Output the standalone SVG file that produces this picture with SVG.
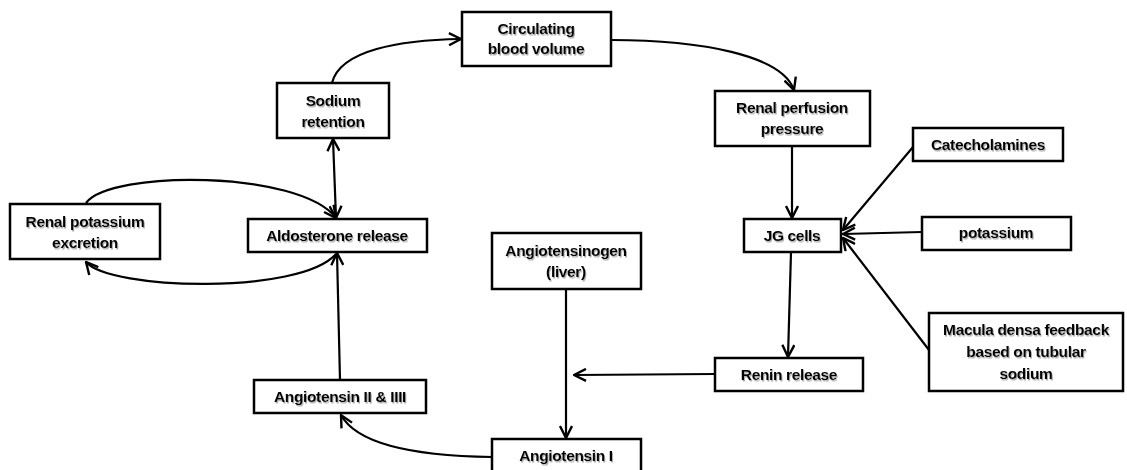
<svg xmlns="http://www.w3.org/2000/svg" width="1127" height="470" viewBox="0 0 1127 470">
<style>
.box{fill:#fff;stroke:#000;stroke-width:2.5}
.t{font-family:"Liberation Sans",Arial,sans-serif;font-weight:bold;font-size:15.5px;text-anchor:middle;fill:#000;letter-spacing:-0.35px;filter:url(#sh)}
.c{fill:none;stroke:#000;stroke-width:2.2}
</style>
<defs>
<marker id="ah" viewBox="0 0 14 14" refX="13" refY="7" markerWidth="14" markerHeight="14" markerUnits="userSpaceOnUse" orient="auto-start-reverse">
<path d="M1,1 L13,7 L1,13" fill="none" stroke="#000" stroke-width="2.4"/>
</marker>
<filter id="sh" x="-10%" y="-20%" width="120%" height="150%">
<feDropShadow dx="1" dy="1.5" stdDeviation="0.7" flood-color="#777" flood-opacity="0.6"/>
</filter>
</defs>
<rect width="1127" height="470" fill="#fff"/>
<g id="connectors">
<path class="c" d="M332,83 C340,50 400,40 461,39" marker-end="url(#ah)"/>
<path class="c" d="M611,40 C700,40 782,55 794,90" marker-end="url(#ah)"/>
<path class="c" d="M792,146 L792,218" marker-end="url(#ah)"/>
<path class="c" d="M913,147 L843,230" marker-end="url(#ah)"/>
<path class="c" d="M922,232 L843,234" marker-end="url(#ah)"/>
<path class="c" d="M929,350 L843,238" marker-end="url(#ah)"/>
<path class="c" d="M791,252 L788,357" marker-end="url(#ah)"/>
<path class="c" d="M715,374 L574,375" marker-end="url(#ah)"/>
<path class="c" d="M566,289 L566,438" marker-end="url(#ah)"/>
<path class="c" d="M492,457 C420,456 358,446 341,415" marker-end="url(#ah)"/>
<path class="c" d="M340,380 L337,253" marker-end="url(#ah)"/>
<path class="c" d="M333,139 L336,218" marker-start="url(#ah)" marker-end="url(#ah)"/>
<path class="c" d="M86,203 C110,170 300,170 336,218" marker-end="url(#ah)"/>
<path class="c" d="M336,254 C300,295 110,290 86,262" marker-end="url(#ah)"/>
</g>
<g id="circulating"><rect class="box" x="462" y="12" width="149" height="54"/><text class="t" x="536" y="34">Circulating</text><text class="t" x="536" y="54">blood volume</text></g>
<g id="sodium"><rect class="box" x="277" y="83" width="112" height="55"/><text class="t" x="333" y="106">Sodium</text><text class="t" x="333" y="127">retention</text></g>
<g id="potexcretion"><rect class="box" x="10" y="204" width="150" height="55"/><text class="t" x="85" y="227">Renal potassium</text><text class="t" x="85" y="248">excretion</text></g>
<g id="aldosterone"><rect class="box" x="248" y="219" width="179" height="33"/><text class="t" x="337" y="241">Aldosterone release</text></g>
<g id="ang2"><rect class="box" x="254" y="380" width="172" height="33"/><text class="t" x="340" y="402">Angiotensin II &amp; IIII</text></g>
<g id="angiotensinogen"><rect class="box" x="492" y="233" width="149" height="56"/><text class="t" x="566" y="256">Angiotensinogen</text><text class="t" x="566" y="277">(liver)</text></g>
<g id="ang1"><rect class="box" x="492" y="439" width="149" height="36"/><text class="t" x="566" y="461">Angiotensin I</text></g>
<g id="perfusion"><rect class="box" x="715" y="91" width="155" height="55"/><text class="t" x="792" y="113">Renal perfusion</text><text class="t" x="792" y="134">pressure</text></g>
<g id="catecholamines"><rect class="box" x="913" y="128" width="150" height="33"/><text class="t" x="988" y="150">Catecholamines</text></g>
<g id="jg"><rect class="box" x="744" y="219" width="97" height="33"/><text class="t" x="792" y="241">JG cells</text></g>
<g id="potassium"><rect class="box" x="922" y="217" width="149" height="33"/><text class="t" x="996" y="238">potassium</text></g>
<g id="renin"><rect class="box" x="715" y="358" width="148" height="33"/><text class="t" x="789" y="380">Renin release</text></g>
<g id="macula"><rect class="box" x="929" y="313" width="194" height="78"/><text class="t" x="1026" y="335">Macula densa feedback</text><text class="t" x="1026" y="357">based on tubular</text><text class="t" x="1026" y="379">sodium</text></g>
</svg>
